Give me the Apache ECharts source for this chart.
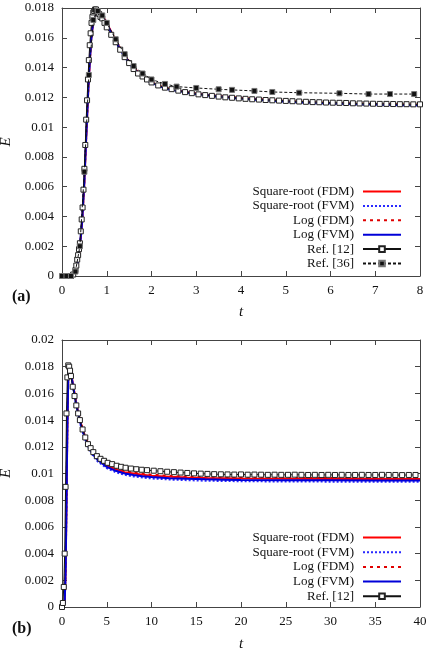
<!DOCTYPE html>
<html>
<head>
<meta charset="utf-8">
<script src="https://cdn.jsdelivr.net/npm/echarts@6/dist/echarts.min.js"></script>
<style>
html,body{margin:0;padding:0;background:#fff;}
#c{width:427px;height:650px;}
</style>
</head>
<body>
<div id="c"></div>
<script>
// ---------- Panel (a) data ----------
var topT = [0, 0.1, 0.2, 0.25, 0.3, 0.35, 0.4, 0.45, 0.5, 0.55, 0.6, 0.65, 0.7, 0.75, 0.8, 0.85, 0.9, 1.0, 1.1, 1.2, 1.3, 1.4, 1.5, 1.6, 1.7, 1.8, 1.9, 2.0, 2.2, 2.4, 2.6, 2.8, 3.0, 3.5, 4.0, 4.5, 5.0, 5.5, 6.0, 6.5, 7.0, 7.5, 8.0];
var topSrFdm = [0, 0, 0, 0.00005, 0.0002, 0.0008, 0.0019, 0.0036, 0.0063, 0.0099, 0.0133, 0.0158, 0.0172, 0.0178, 0.0178, 0.01765, 0.0175, 0.0170, 0.0164, 0.0158, 0.0153, 0.0148, 0.0144, 0.0140, 0.0137, 0.01345, 0.0132, 0.0130, 0.01275, 0.01258, 0.01245, 0.01235, 0.01225, 0.01208, 0.01195, 0.01185, 0.01175, 0.01168, 0.01162, 0.01158, 0.01155, 0.01152, 0.0115];
var topSrFvm = [0, 0, 0, 0.00005, 0.0002, 0.0009, 0.0020, 0.0038, 0.0065, 0.0101, 0.0135, 0.0159, 0.0173, 0.0178, 0.0178, 0.0176, 0.0174, 0.0169, 0.0163, 0.0157, 0.0152, 0.0147, 0.0143, 0.0139, 0.0136, 0.01338, 0.01315, 0.01295, 0.0127, 0.01252, 0.0124, 0.0123, 0.0122, 0.01202, 0.0119, 0.0118, 0.0117, 0.01162, 0.01157, 0.01153, 0.0115, 0.01147, 0.01145];
var topLogFdm = [0, 0, 0, 0.00004, 0.0002, 0.0008, 0.0019, 0.0035, 0.0062, 0.0098, 0.0132, 0.0157, 0.0172, 0.0178, 0.0178, 0.01765, 0.0175, 0.0170, 0.0164, 0.0158, 0.0153, 0.0148, 0.0144, 0.0140, 0.0137, 0.01345, 0.0132, 0.0130, 0.01276, 0.01259, 0.01246, 0.01236, 0.01226, 0.01209, 0.01196, 0.01186, 0.01176, 0.01169, 0.01163, 0.01159, 0.01156, 0.01153, 0.01151];
var topLogFvm = [0, 0, 0, 0.00005, 0.0002, 0.0009, 0.0020, 0.0037, 0.0064, 0.0100, 0.0134, 0.0158, 0.0172, 0.0178, 0.0178, 0.0176, 0.01745, 0.01695, 0.01635, 0.01575, 0.01525, 0.01475, 0.01435, 0.01395, 0.01365, 0.0134, 0.01318, 0.01298, 0.01272, 0.01255, 0.01242, 0.01232, 0.01222, 0.01205, 0.01192, 0.01182, 0.01172, 0.01165, 0.0116, 0.01155, 0.01152, 0.01149, 0.01147];
var topRef12T = [0.05, 0.1, 0.15, 0.2, 0.25, 0.3, 0.32, 0.34, 0.36, 0.38, 0.40, 0.42, 0.44, 0.46, 0.48, 0.50, 0.52, 0.54, 0.56, 0.58, 0.60, 0.62, 0.64, 0.66, 0.68, 0.70, 0.72, 0.74, 0.76, 0.78, 0.80, 0.83, 0.86, 0.9, 0.95, 1.0, 1.1, 1.2, 1.3, 1.4, 1.5, 1.6, 1.7, 1.8, 1.9, 2.0, 2.15, 2.3, 2.45, 2.6, 2.75, 2.9, 3.05, 3.2, 3.35, 3.5, 3.65, 3.8, 3.95, 4.1, 4.25, 4.4, 4.55, 4.7, 4.85, 5.0, 5.15, 5.3, 5.45, 5.6, 5.75, 5.9, 6.05, 6.2, 6.35, 6.5, 6.65, 6.8, 6.95, 7.1, 7.25, 7.4, 7.55, 7.7, 7.85, 8.0];
var topRef12E = [0, 0, 0, 0, 0.0001, 0.0004, 0.0007, 0.0011, 0.0014, 0.0018, 0.0022, 0.0030, 0.0038, 0.0046, 0.0058, 0.0072, 0.0088, 0.0105, 0.0118, 0.0132, 0.0145, 0.0155, 0.0163, 0.0170, 0.0174, 0.0177, 0.0178, 0.0179, 0.0179, 0.0178, 0.0177, 0.0176, 0.0174, 0.0173, 0.0170, 0.0167, 0.0162, 0.0157, 0.0152, 0.0147, 0.0143, 0.0139, 0.0136, 0.0134, 0.0132, 0.0130, 0.0128, 0.01265, 0.01255, 0.01245, 0.01235, 0.01228, 0.0122, 0.01215, 0.0121, 0.01205, 0.012, 0.01197, 0.01193, 0.0119, 0.01187, 0.01185, 0.01182, 0.0118, 0.01178, 0.01176, 0.01174, 0.01172, 0.0117, 0.01168, 0.01167, 0.01165, 0.01164, 0.01163, 0.01162, 0.0116, 0.01159, 0.01158, 0.01157, 0.01156, 0.01156, 0.01155, 0.01154, 0.01154, 0.01153, 0.01153];
var topRef36T = [0, 0.1, 0.2, 0.3, 0.4, 0.5, 0.6, 0.7, 0.8, 0.9, 1.0, 1.2, 1.4, 1.6, 1.8, 2.0, 2.3, 2.56, 3.0, 3.5, 3.8, 4.3, 4.7, 5.3, 6.2, 6.85, 7.33, 7.87];
var topRef36E = [0, 0, 0, 0.0003, 0.0020, 0.0070, 0.0135, 0.0172, 0.0178, 0.0175, 0.0170, 0.0159, 0.0149, 0.0141, 0.0136, 0.0132, 0.0129, 0.01272, 0.01263, 0.01254, 0.0125, 0.01243, 0.01236, 0.01231, 0.01227, 0.01222, 0.01222, 0.01222];

// ---------- Panel (b) data ----------
var botT = [0, 0.2, 0.3, 0.4, 0.5, 0.6, 0.7, 0.8, 0.9, 1.0, 1.25, 1.5, 2, 2.5, 3, 3.5, 4, 5, 6, 7, 8, 9, 10, 12, 14, 16, 18, 20, 25, 30, 35, 40];
var botSrFdm = [0, 0, 0.0003, 0.0025, 0.0075, 0.0135, 0.0172, 0.0180, 0.0179, 0.0176, 0.0166, 0.0156, 0.0140, 0.0129, 0.0121, 0.0115, 0.0111, 0.0106, 0.0103, 0.0101, 0.0100, 0.0099, 0.00983, 0.00975, 0.0097, 0.00966, 0.00964, 0.00962, 0.0096, 0.00959, 0.00958, 0.00958];
var botSrFvm = [0, 0, 0.0003, 0.0026, 0.0077, 0.0137, 0.0173, 0.0180, 0.0178, 0.0175, 0.0164, 0.0154, 0.0138, 0.0127, 0.0119, 0.0113, 0.0109, 0.0104, 0.0101, 0.0099, 0.00978, 0.0097, 0.00963, 0.00955, 0.0095, 0.00946, 0.00944, 0.00942, 0.0094, 0.00939, 0.00938, 0.00938];
var botLogFdm = [0, 0, 0.0003, 0.0025, 0.0074, 0.0134, 0.0171, 0.0180, 0.0179, 0.0176, 0.0166, 0.0157, 0.0141, 0.0130, 0.0122, 0.0116, 0.0112, 0.0107, 0.0104, 0.0102, 0.01008, 0.01, 0.00993, 0.00984, 0.00978, 0.00974, 0.00972, 0.0097, 0.00968, 0.00967, 0.00966, 0.00966];
var botLogFvm = [0, 0, 0.0003, 0.0026, 0.0076, 0.0136, 0.0172, 0.0180, 0.0178, 0.0175, 0.0165, 0.0155, 0.0139, 0.0128, 0.0120, 0.0114, 0.0110, 0.0105, 0.0102, 0.0100, 0.00988, 0.0098, 0.00973, 0.00965, 0.0096, 0.00956, 0.00954, 0.00952, 0.0095, 0.00949, 0.00948, 0.00948];
var botRef12T = [0, 0.1, 0.2, 0.3, 0.4, 0.5, 0.6, 0.7, 0.8, 0.9, 1.0, 1.2, 1.4, 1.6, 1.8, 2.0, 2.3, 2.6, 2.9, 3.2, 3.5, 3.9, 4.3, 4.7, 5.1, 5.6, 6.1, 6.6, 7.1, 7.7, 8.3, 8.9, 9.5, 10.25, 11.0, 11.75, 12.5, 13.25, 14.0, 14.75, 15.5, 16.25, 17.0, 17.75, 18.5, 19.25, 20.0, 20.75, 21.5, 22.25, 23.0, 23.75, 24.5, 25.25, 26.0, 26.75, 27.5, 28.25, 29.0, 29.75, 30.5, 31.25, 32.0, 32.75, 33.5, 34.25, 35.0, 35.75, 36.5, 37.25, 38.0, 38.75, 39.5];
var botRef12E = [0, 0.0003, 0.0015, 0.0040, 0.0090, 0.0145, 0.0172, 0.0181, 0.0180, 0.0177, 0.0173, 0.0165, 0.0158, 0.0151, 0.0145, 0.0140, 0.0133, 0.0127, 0.0122, 0.0119, 0.0116, 0.0113, 0.0111, 0.01095, 0.0108, 0.0107, 0.01058, 0.0105, 0.01043, 0.01037, 0.01032, 0.01028, 0.01025, 0.01021, 0.01017, 0.01013, 0.0101, 0.01007, 0.01004, 0.01001, 0.00999, 0.00997, 0.00995, 0.00994, 0.00993, 0.00992, 0.00993, 0.00991, 0.00992, 0.00991, 0.0099, 0.00991, 0.0099, 0.0099, 0.00991, 0.0099, 0.00989, 0.0099, 0.00989, 0.0099, 0.00989, 0.0099, 0.00989, 0.00989, 0.0099, 0.00989, 0.00989, 0.0099, 0.00989, 0.00989, 0.00988, 0.00989, 0.00989];

// ---------- Names / ticks ----------
var names = ['Square-root (FDM)', 'Square-root (FVM)', 'Log (FDM)', 'Log (FVM)', 'Ref. [12]', 'Ref. [36]'];
var topX = {min: 0, max: 8, interval: 1};
var topY = {min: 0, max: 0.018, interval: 0.002};
var botX = {min: 0, max: 40, interval: 5};
var botY = {min: 0, max: 0.02, interval: 0.002};

function zip(a, b) { return a.map(function (v, i) { return [v, b[i]]; }); }

var FONT = 'Liberation Serif';
var styles = [
  {color: '#ff0000', width: 2, type: 'solid'},
  {color: '#2a2aff', width: 2, type: [2, 2]},
  {color: '#e00000', width: 1.6, type: [3, 4]},
  {color: '#0000d8', width: 2, type: 'solid'}
];

function lineSeries(idx, gi, t, e) {
  return {
    name: names[idx], type: 'line', xAxisIndex: gi * 2, yAxisIndex: gi * 2,
    data: zip(t, e), symbol: 'none', smooth: false,
    lineStyle: {color: styles[idx].color, width: styles[idx].width, type: styles[idx].type},
    itemStyle: {color: styles[idx].color},
    animation: false, z: 2 + idx
  };
}
function ref12Series(gi, t, e) {
  return {
    name: names[4], type: 'line', xAxisIndex: gi * 2, yAxisIndex: gi * 2,
    data: zip(t, e), symbol: 'rect', symbolSize: 5, showSymbol: true,
    lineStyle: {color: '#111', width: 1},
    itemStyle: {color: '#ffffff', borderColor: '#222', borderWidth: 1},
    animation: false, z: 8
  };
}
function ref36Series(gi, t, e) {
  return {
    name: names[5], type: 'line', xAxisIndex: gi * 2, yAxisIndex: gi * 2,
    data: zip(t, e), symbol: 'rect', symbolSize: 5, showSymbol: true,
    lineStyle: {color: '#111', width: 1, type: [3, 2]},
    itemStyle: {color: '#111', borderColor: '#777', borderWidth: 1},
    animation: false, z: 9
  };
}

function axisCommon() {
  return {
    axisLine: {show: true, onZero: false, lineStyle: {color: '#444', width: 1}},
    axisTick: {show: true, inside: true, length: 5, lineStyle: {color: '#444'}},
    splitLine: {show: false}
  };
}
function xAxes(gi, cfg, gap) {
  var a = Object.assign(axisCommon(), {
    type: 'value', gridIndex: gi, position: 'bottom', min: cfg.min, max: cfg.max, interval: cfg.interval,
    axisLabel: {fontFamily: FONT, fontSize: 13, color: '#111', margin: 8},
    name: 't', nameLocation: 'middle', nameGap: gap,
    nameTextStyle: {fontFamily: FONT, fontStyle: 'italic', fontSize: 15, color: '#111'}
  });
  var b = Object.assign(axisCommon(), {
    type: 'value', gridIndex: gi, position: 'top', min: cfg.min, max: cfg.max, interval: cfg.interval,
    axisLabel: {show: false}
  });
  return [a, b];
}
function yAxes(gi, cfg) {
  var a = Object.assign(axisCommon(), {
    type: 'value', gridIndex: gi, position: 'left', min: cfg.min, max: cfg.max, interval: cfg.interval,
    axisLabel: {fontFamily: FONT, fontSize: 13, color: '#111', margin: 8},
    name: 'E', nameLocation: 'middle', nameGap: 48, nameRotate: 90, nameMoveOverlap: false,
    nameTextStyle: {fontFamily: FONT, fontStyle: 'italic', fontSize: 15, color: '#111'}
  });
  var b = Object.assign(axisCommon(), {
    type: 'value', gridIndex: gi, position: 'right', min: cfg.min, max: cfg.max, interval: cfg.interval,
    axisLabel: {show: false}
  });
  return [a, b];
}

var series = [
  lineSeries(0, 0, topT, topSrFdm),
  lineSeries(1, 0, topT, topSrFvm),
  lineSeries(2, 0, topT, topLogFdm),
  lineSeries(3, 0, topT, topLogFvm),
  ref12Series(0, topRef12T, topRef12E),
  ref36Series(0, topRef36T, topRef36E),
  lineSeries(0, 1, botT, botSrFdm),
  lineSeries(1, 1, botT, botSrFvm),
  lineSeries(2, 1, botT, botLogFdm),
  lineSeries(3, 1, botT, botLogFvm),
  ref12Series(1, botRef12T, botRef12E)
];

var legends = [];
var topCenters = [192, 206.4, 220.8, 235.2, 249.6, 264];
var botCenters = [538, 552.7, 567.4, 582.1, 596.8];
function addLegend(idx, cy) {
  var lg = {
    data: [names[idx]], orient: 'vertical', align: 'right', right: 25, top: cy - 7,
    padding: 0, itemWidth: 38, itemHeight: 7, selectedMode: false,
    textStyle: {fontFamily: FONT, fontSize: 13, color: '#111', padding: [0, 4, 0, 0]}
  };
  if (idx < 4) { lg.itemStyle = {opacity: 0}; }
  legends.push(lg);
}
topCenters.forEach(function (c, i) { addLegend(i, c); });
botCenters.forEach(function (c, i) { addLegend(i, c); });

var option = {
  backgroundColor: '#fff',
  animation: false,
  grid: [
    {left: 62, right: 7, top: 8, bottom: 374, outerBoundsMode: 'none', containLabel: false},
    {left: 62, right: 7, top: 340, bottom: 43, outerBoundsMode: 'none', containLabel: false}
  ],
  xAxis: xAxes(0, topX, 29).concat(xAxes(1, botX, 30)),
  yAxis: yAxes(0, topY).concat(yAxes(1, botY)),
  legend: legends,
  series: series,
  graphic: [
    {type: 'text', left: 12, top: 289, style: {text: '(a)', font: 'bold 16px "Liberation Serif"', fill: '#111'}},
    {type: 'text', left: 12, top: 621, style: {text: '(b)', font: 'bold 16px "Liberation Serif"', fill: '#111'}}
  ]
};

var chart = echarts.init(document.getElementById('c'), null, {renderer: 'canvas'});
chart.setOption(option);
</script>
</body>
</html>
